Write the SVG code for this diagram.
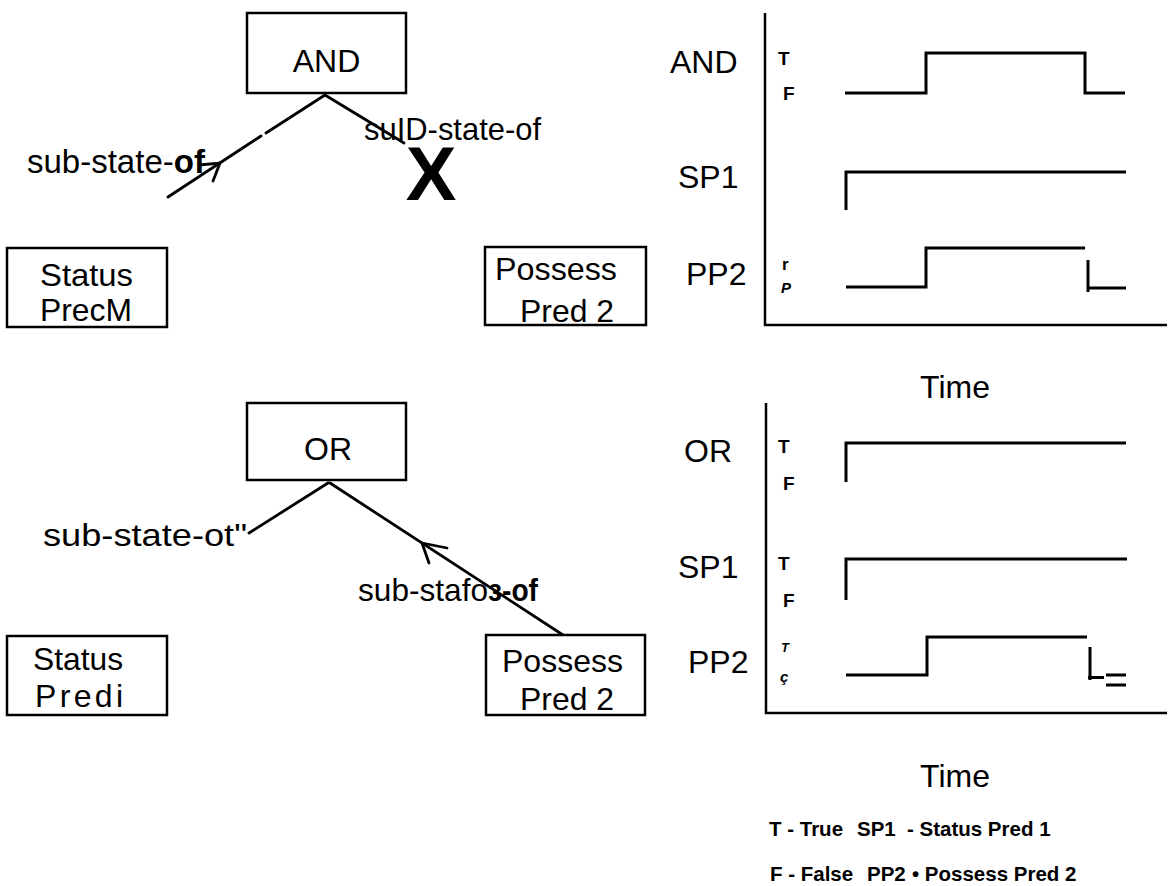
<svg xmlns="http://www.w3.org/2000/svg" width="1175" height="886" viewBox="0 0 1175 886">
<style>
.box{fill:#fff;stroke:#000;stroke-width:2.5}
.lbl{font-family:"Liberation Sans",Arial,sans-serif;font-size:32px;fill:#000}
.bold{font-weight:bold}
.edge{fill:none;stroke:#000;stroke-width:2.8;stroke-linecap:round}
.axis{fill:none;stroke:#000;stroke-width:2.5}
.wave{fill:none;stroke:#000;stroke-width:3}
.tf{font-family:"Liberation Sans",Arial,sans-serif;font-size:19px;font-weight:bold;fill:#000}
.leg{font-family:"Liberation Sans",Arial,sans-serif;font-size:20.5px;font-weight:bold;fill:#000}
</style>
<rect width="1175" height="886" fill="#fff"/>

<!-- connectors -->
<g id="connectors">
  <path class="edge" d="M325,95 L266,133 M261,136 L168,197"/>
  <path class="edge" d="M199,165 L220,163 L213,181"/>
  <path class="edge" d="M325,95 L404,143"/>
  <path class="edge" d="M328,483 L249,533"/>
  <path class="edge" d="M330,483 L563,635"/>
  <path class="edge" d="M447,548 L422,543 L429,563"/>
</g>

<!-- AND tree -->
<g id="node-and">
  <rect class="box" x="247" y="13" width="159" height="80"/>
  <text class="lbl" x="326.5" y="72" text-anchor="middle">AND</text>
</g>
<g id="node-status-1">
  <rect class="box" x="7" y="248" width="160" height="79"/>
  <text class="lbl" x="40" y="286" textLength="93" lengthAdjust="spacingAndGlyphs">Status</text>
  <text class="lbl" x="40" y="321" textLength="92" lengthAdjust="spacingAndGlyphs">PrecM</text>
</g>
<g id="node-possess-1">
  <rect class="box" x="485" y="247" width="161" height="78"/>
  <text class="lbl" x="495" y="280" textLength="122" lengthAdjust="spacingAndGlyphs">Possess</text>
  <text class="lbl" x="520" y="322" textLength="94" lengthAdjust="spacingAndGlyphs">Pred 2</text>
</g>
<g id="labels-and">
  <text class="lbl" x="27" y="173" style="font-size:33px">sub-state-<tspan class="bold">of</tspan></text>
  <text class="lbl" x="364" y="140" textLength="177" lengthAdjust="spacingAndGlyphs">suID-state-of</text>
  <text class="lbl bold" x="431" y="200" text-anchor="middle" style="font-size:76px">X</text>
</g>

<!-- OR tree -->
<g id="node-or">
  <rect class="box" x="247" y="403" width="159" height="77"/>
  <text class="lbl" x="328" y="460" text-anchor="middle">OR</text>
</g>
<g id="node-status-2">
  <rect class="box" x="7" y="636" width="160" height="79"/>
  <text class="lbl" x="33" y="670" textLength="90" lengthAdjust="spacingAndGlyphs">Status</text>
  <text class="lbl" x="35" y="707" textLength="88" lengthAdjust="spacing">Predi</text>
</g>
<g id="node-possess-2">
  <rect class="box" x="486" y="635" width="159" height="80"/>
  <text class="lbl" x="502" y="672" textLength="121" lengthAdjust="spacingAndGlyphs">Possess</text>
  <text class="lbl" x="520" y="710" textLength="94" lengthAdjust="spacingAndGlyphs">Pred 2</text>
</g>
<g id="labels-or">
  <text class="lbl" x="43" y="546" textLength="204" lengthAdjust="spacingAndGlyphs">sub-state-ot"</text>
  <text class="lbl" x="358" y="601" textLength="130" lengthAdjust="spacingAndGlyphs">sub-stafo</text>
  <text class="lbl bold" x="488" y="601" textLength="50" lengthAdjust="spacingAndGlyphs">ɜ-of</text>
</g>

<!-- AND timing chart -->
<g id="chart-and">
  <path class="axis" d="M765,13 L765,325 L1167,325"/>
  <text class="lbl" x="670" y="73">AND</text>
  <text class="lbl" x="678" y="188">SP1</text>
  <text class="lbl" x="686" y="285">PP2</text>
  <text class="tf" x="778" y="65">T</text>
  <text class="tf" x="783" y="100">F</text>
  <text class="tf" x="782" y="270" style="font-size:17px">r</text>
  <text class="tf" x="781" y="293" style="font-size:15px;font-style:italic">P</text>
  <path class="wave" d="M845,93 L926,93 L926,53 L1085,53 L1085,93 L1125,93"/>
  <path class="wave" d="M846,210 L846,172 L1126,172" stroke-width="2.5"/>
  <path class="wave" d="M846,287 L926,287 L926,248 L1085,248"/>
  <path class="wave" d="M1088,260 L1088,292" stroke-width="4.5"/>
  <path class="wave" d="M1088,288 L1126,288" stroke-width="2.5"/>
  <text class="lbl" x="955" y="398" text-anchor="middle">Time</text>
</g>

<!-- OR timing chart -->
<g id="chart-or">
  <path class="axis" d="M766,403 L766,713 L1167,713"/>
  <text class="lbl" x="684" y="462">OR</text>
  <text class="lbl" x="678" y="578">SP1</text>
  <text class="lbl" x="688" y="673">PP2</text>
  <text class="tf" x="778" y="453">T</text>
  <text class="tf" x="783" y="490">F</text>
  <text class="tf" x="778" y="570">T</text>
  <text class="tf" x="783" y="607">F</text>
  <text class="tf" x="781" y="652" style="font-size:13px;font-style:italic">T</text>
  <text class="tf" x="780" y="682" style="font-size:15px;font-style:italic">ç</text>
  <path class="wave" d="M846,482 L846,443 L1126,443"/>
  <path class="wave" d="M846,600 L846,559 L1127,559"/>
  <path class="wave" d="M846,675 L927,675 L927,637 L1087,637"/>
  <path class="wave" d="M1090,647 L1090,680 M1088,677.5 L1104,677.5" stroke-width="5"/>
  <path class="wave" d="M1106,675 L1126,675 M1106,685 L1126,685" stroke-width="1.8"/>
  <text class="lbl" x="955" y="787" text-anchor="middle">Time</text>
</g>

<!-- legend -->
<g id="legend">
  <text class="leg" x="769" y="836">T - True</text>
  <text class="leg" x="857" y="836">SP1</text>
  <text class="leg" x="907" y="836">- Status Pred 1</text>
  <text class="leg" x="770" y="881">F - False</text>
  <text class="leg" x="867" y="881">PP2</text>
  <text class="leg" x="912" y="881">• Possess Pred 2</text>
</g>
</svg>
